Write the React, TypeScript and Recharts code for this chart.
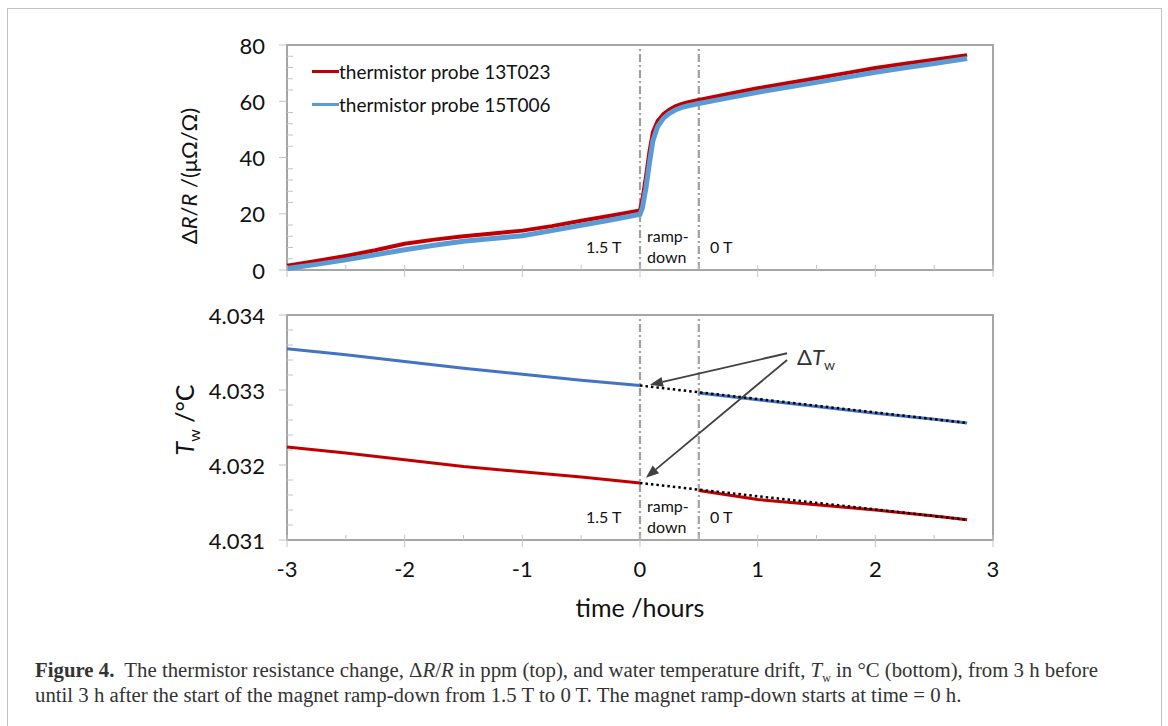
import React from "react";
import { LineChart, Line, XAxis, YAxis, ReferenceLine, ReferenceArea } from "recharts";

// ── top panel: ΔR/R in µΩ/Ω ──────────────────────────────────────────────
const TIME_TOP = [
  -3, -2.75, -2.5, -2.25, -2, -1.75, -1.5, -1.25, -1, -0.75, -0.5, -0.25, 0,
  0.02, 0.05, 0.08, 0.11, 0.15, 0.2, 0.25, 0.3, 0.35, 0.4, 0.5,
  0.75, 1, 1.25, 1.5, 1.75, 2, 2.25, 2.5, 2.78,
];
const DR_13T023 = [
  1.5, 3.2, 5.0, 7.0, 9.3, 10.8, 12.0, 13.0, 14.0, 15.6, 17.5, 19.3, 21.2,
  25, 33, 42, 49, 53, 55.5, 57, 58.2, 59, 59.6, 60.5,
  62.6, 64.6, 66.4, 68.2, 70, 71.8, 73.3, 74.8, 76.4,
];
const DR_15T006 = [
  0.5, 2.0, 3.6, 5.4, 7.2, 8.8, 10.2, 11.2, 12.2, 14.0, 15.9, 17.8, 19.8,
  22, 29, 38, 46, 51, 54, 55.7, 56.9, 57.7, 58.3, 59.2,
  61.2, 63.2, 65, 66.7, 68.5, 70.3, 71.9, 73.4, 75.2,
];

// ── bottom panel: water temperature in °C ────────────────────────────────
const TIME_BEFORE = [-3, -2.5, -2, -1.5, -1, -0.5, 0];
const TIME_AFTER = [0.5, 1, 1.5, 2, 2.5, 2.78];
const TW_15T006_BEFORE = [4.03355, 4.03347, 4.03338, 4.03329, 4.03321, 4.03313, 4.03306];
const TW_15T006_AFTER = [4.03296, 4.03287, 4.03278, 4.03269, 4.03261, 4.03256];
const TW_13T023_BEFORE = [4.03224, 4.03216, 4.03207, 4.03198, 4.03191, 4.03184, 4.03176];
const TW_13T023_AFTER = [4.03166, 4.03154, 4.03147, 4.0314, 4.03132, 4.03127];
const FIT_TIME = [0, 2.78];
const FIT_15T006 = [4.03306, 4.03256];
const FIT_13T023 = [4.03176, 4.03127];

// ── axes ─────────────────────────────────────────────────────────────────
const X_TICKS = [-3, -2.5, -2, -1.5, -1, -0.5, 0, 0.5, 1, 1.5, 2, 2.5, 3];
const TOP_Y_TICKS = [0, 4, 8, 12, 16, 20, 24, 28, 32, 36, 40, 44, 48, 52, 56, 60, 64, 68, 72, 76, 80];
const BOTTOM_Y_TICKS = [
  4.031, 4.0312, 4.0314, 4.0316, 4.0318, 4.032, 4.0322, 4.0324, 4.0326, 4.0328,
  4.033, 4.0332, 4.0334, 4.0336, 4.0338, 4.034,
];
const RAMP_LINES = [0, 0.5];

const zip = (ts: number[], vs: number[]) => ts.map((t, i) => ({ t, v: vs[i] }));

const FONT = "Lato, 'Open Sans', sans-serif";
const FRAME = "#a6a6a6";
const TICK = "#c4c4c4";

function XTick(props: any) {
  const { x, y, payload, showLabel } = props;
  const v = payload.value;
  const major = Number.isInteger(v);
  return (
    <g>
      <line x1={x} x2={x} y1={y - 5} y2={major ? y + 7 : y} stroke={TICK} strokeWidth={1} />
      {showLabel && major && (
        <text x={x} y={y + 28} textAnchor="middle" dominantBaseline="central" fontSize={22} fontFamily={FONT} fill="#111">
          {v}
        </text>
      )}
    </g>
  );
}

function YTick(props: any) {
  const { x, y, payload, isMajor, format } = props;
  const v = payload.value;
  const major = isMajor(v);
  return (
    <g>
      <line x1={major ? x - 8 : x} x2={major ? x : x + 6} y1={y} y2={y} stroke={TICK} strokeWidth={1} />
      {major && (
        <text x={x - 22} y={y} textAnchor="end" dominantBaseline="central" fontSize={22} fontFamily={FONT} fill="#111">
          {format(v)}
        </text>
      )}
    </g>
  );
}

function Arrow(props: any) {
  const { x1, y1, x2, y2 } = props;
  const a = Math.atan2(y2 - y1, x2 - x1);
  const len = 13;
  const half = 5;
  const bx = x2 - len * Math.cos(a);
  const by = y2 - len * Math.sin(a);
  const px = -Math.sin(a) * half;
  const py = Math.cos(a) * half;
  return (
    <g>
      <line x1={x1} y1={y1} x2={bx} y2={by} stroke="#404040" strokeWidth={1.8} />
      <polygon points={`${x2},${y2} ${bx + px},${by + py} ${bx - px},${by - py}`} fill="#404040" />
    </g>
  );
}

const abs = (left: number, top: number, extra: React.CSSProperties = {}): React.CSSProperties => ({
  position: "absolute",
  left,
  top,
  whiteSpace: "nowrap",
  fontFamily: FONT,
  lineHeight: 1,
  ...extra,
});

function PhaseLabels({ offset }: { offset: number }) {
  const s: React.CSSProperties = { fontSize: 16, color: "#111" };
  return (
    <>
      <div style={abs(586, offset + 239, s)}>1.5 T</div>
      <div style={abs(647, offset + 228, s)}>ramp-</div>
      <div style={abs(647, offset + 249, s)}>down</div>
      <div style={abs(710, offset + 239, s)}>0 T</div>
    </>
  );
}

export default function App() {
  return (
    <div style={{ position: "absolute", left: 0, top: 0, width: 1168, height: 726, background: "#fff", overflow: "hidden" }}>
      <div style={{ position: "absolute", left: 7, top: 8, width: 1153, height: 740, border: "1.5px solid #c2c2c2" }} />

      <div style={{ position: "absolute", left: 0, top: 0 }}>
        <LineChart width={1168} height={300} margin={{ top: 45, right: 175, bottom: 0, left: 227 }}>
          <XAxis
            type="number"
            dataKey="t"
            domain={[-3, 3]}
            ticks={X_TICKS}
            height={30}
            axisLine={false}
            tickLine={false}
            tickSize={0}
            tickMargin={0}
            tick={(p: any) => <XTick {...p} showLabel={false} />}
          />
          <YAxis
            type="number"
            domain={[0, 80]}
            ticks={TOP_Y_TICKS}
            width={60}
            axisLine={false}
            tickLine={false}
            tickSize={0}
            tickMargin={0}
            interval={0}
            tick={(p: any) => <YTick {...p} isMajor={(v: number) => v % 20 === 0} format={(v: number) => `${v}`} />}
          />
          <ReferenceArea x1={-3} x2={3} y1={0} y2={80} fill="none" fillOpacity={0} stroke={FRAME} strokeWidth={2} />
          {RAMP_LINES.map((x) => (
            <ReferenceLine key={x} x={x} stroke="#a0a0a0" strokeWidth={2.2} strokeDasharray="8 3 2 3" />
          ))}
          <Line data={zip(TIME_TOP, DR_13T023)} dataKey="v" stroke="#c00000" strokeWidth={4} dot={false} isAnimationActive={false} />
          <Line data={zip(TIME_TOP, DR_15T006)} dataKey="v" stroke="#5b9bd5" strokeWidth={5} dot={false} isAnimationActive={false} />
        </LineChart>
      </div>

      <div style={{ position: "absolute", left: 0, top: 300 }}>
        <LineChart width={1168} height={320} margin={{ top: 15, right: 175, bottom: 0, left: 227 }}>
          <XAxis
            type="number"
            dataKey="t"
            domain={[-3, 3]}
            ticks={X_TICKS}
            height={80}
            axisLine={false}
            tickLine={false}
            tickSize={0}
            tickMargin={0}
            tick={(p: any) => <XTick {...p} showLabel={true} />}
          />
          <YAxis
            type="number"
            domain={[4.031, 4.034]}
            ticks={BOTTOM_Y_TICKS}
            width={60}
            axisLine={false}
            tickLine={false}
            tickSize={0}
            tickMargin={0}
            interval={0}
            tick={(p: any) => (
              <YTick
                {...p}
                isMajor={(v: number) => Math.round(v * 10000) % 10 === 0}
                format={(v: number) => v.toFixed(3)}
              />
            )}
          />
          <ReferenceArea x1={-3} x2={3} y1={4.031} y2={4.034} fill="none" fillOpacity={0} stroke={FRAME} strokeWidth={2} />
          {RAMP_LINES.map((x) => (
            <ReferenceLine key={x} x={x} stroke="#a0a0a0" strokeWidth={2.2} strokeDasharray="8 3 2 3" />
          ))}
          <Line data={zip(TIME_BEFORE, TW_15T006_BEFORE)} dataKey="v" stroke="#4472c4" strokeWidth={3} dot={false} isAnimationActive={false} />
          <Line data={zip(TIME_AFTER, TW_15T006_AFTER)} dataKey="v" stroke="#4472c4" strokeWidth={3} dot={false} isAnimationActive={false} />
          <Line data={zip(TIME_BEFORE, TW_13T023_BEFORE)} dataKey="v" stroke="#c00000" strokeWidth={3} dot={false} isAnimationActive={false} />
          <Line data={zip(TIME_AFTER, TW_13T023_AFTER)} dataKey="v" stroke="#c00000" strokeWidth={3} dot={false} isAnimationActive={false} />
          <Line data={zip(FIT_TIME, FIT_15T006)} dataKey="v" stroke="#000" strokeWidth={2.5} strokeDasharray="2.5 3" dot={false} isAnimationActive={false} />
          <Line data={zip(FIT_TIME, FIT_13T023)} dataKey="v" stroke="#000" strokeWidth={2.5} strokeDasharray="2.5 3" dot={false} isAnimationActive={false} />
          <ReferenceLine segment={[{ x: 1.25, y: 4.03349 }, { x: 0.085, y: 4.03307 }]} shape={Arrow} />
          <ReferenceLine segment={[{ x: 1.25, y: 4.0334 }, { x: 0.05, y: 4.03183 }]} shape={Arrow} />
        </LineChart>
      </div>

      {/* legend */}
      <div style={{ position: "absolute", left: 312, top: 70, width: 27, height: 3, background: "#c00000" }} />
      <div style={abs(339, 62, { fontSize: 19, color: "#111" })}>thermistor probe 13T023</div>
      <div style={{ position: "absolute", left: 312, top: 103, width: 27, height: 3, background: "#5b9bd5" }} />
      <div style={abs(339, 95, { fontSize: 19, color: "#111" })}>thermistor probe 15T006</div>

      <PhaseLabels offset={0} />
      <PhaseLabels offset={270} />

      <div style={abs(797, 346, { fontSize: 22, color: "#333" })}>
        Δ<i>T</i>
        <sub style={{ fontSize: 14 }}>w</sub>
      </div>

      {/* axis titles */}
      <div style={abs(189, 176, { fontSize: 22, color: "#111", transform: "translate(-50%, -50%) rotate(-90deg)" })}>
        Δ<i>R</i>/<i>R</i> /(μΩ/Ω)
      </div>
      <div style={abs(187, 420, { fontSize: 25, color: "#111", transform: "translate(-50%, -50%) rotate(-90deg)" })}>
        <i>T</i>
        <sub style={{ fontSize: 16 }}>w</sub> /°C
      </div>
      <div style={abs(640, 607, { fontSize: 25, color: "#111", transform: "translate(-50%, -50%)" })}>time /hours</div>

      {/* caption */}
      <div
        style={abs(35, 657, {
          fontFamily: "'Liberation Serif', 'DejaVu Serif', serif",
          fontSize: 20.8,
          lineHeight: "25px",
          color: "#333",
        })}
      >
        <b>Figure 4.</b>&nbsp; The thermistor resistance change, Δ<i>R</i>/<i>R</i> in ppm (top), and water temperature drift,{" "}
        <i>T</i>
        <sub style={{ fontSize: 12, lineHeight: 0 }}>w</sub> in °C (bottom), from 3 h before
        <br />
        until 3 h after the start of the magnet ramp-down from 1.5 T to 0 T. The magnet ramp-down starts at time = 0 h.
      </div>
    </div>
  );
}
